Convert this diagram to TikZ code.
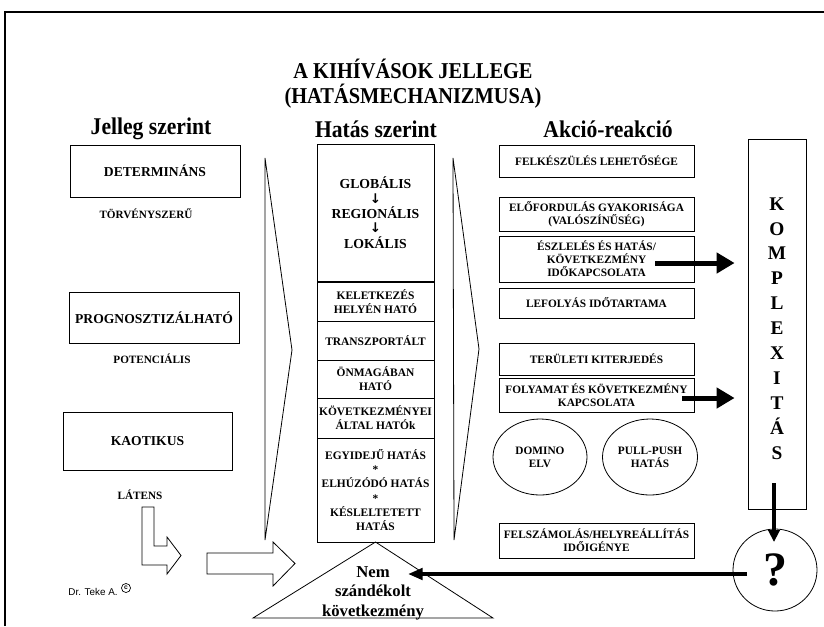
\documentclass[tikz,border=0pt]{standalone}
\usepackage{fontspec}
\setmainfont{Liberation Serif}
\newfontfamily\condfont[FakeStretch=0.9]{Liberation Serif}
\newfontfamily\sansf{Liberation Sans}
\newfontfamily\arrfont{DejaVu Sans}
\usetikzlibrary{arrows.meta,shapes.geometric}
\newcommand\darr{{\arrfont\bfseries\fontsize{10}{10}\selectfont ↓}}
\tikzset{
  bx/.style 2 args={draw, line width=0.6pt, inner sep=0pt, align=center,
    minimum width=#1*0.75pt, minimum height=#2*0.75pt},
  ttl/.style={font=\condfont\bfseries\fontsize{17}{18.75}\selectfont, align=center},
  hd/.style={font=\condfont\bfseries\fontsize{18}{20}\selectfont, align=center},
  lbig/.style={font=\bfseries\fontsize{10.2}{12}\selectfont},
  lsml/.style={font=\bfseries\fontsize{8.4}{10}\selectfont},
  cbig/.style={font=\bfseries\fontsize{10.3}{12.4}\selectfont},
  csml/.style={font=\bfseries\fontsize{8.6}{10.5}\selectfont},
  csml2/.style={font=\bfseries\fontsize{8.6}{10.65}\selectfont},
  rtxt/.style={font=\bfseries\fontsize{8.5}{9.75}\selectfont},
  tritxt/.style={font=\bfseries\fontsize{12.5}{14.6}\selectfont, align=center},
  kom/.style={font=\bfseries\fontsize{14.5}{18.7}\selectfont, align=center},
  qm/.style={font=\bfseries\fontsize{36}{38}\selectfont},
  thin/.style={draw, line width=0.6pt, line join=miter},
  bigarr/.style={line width=3.75pt, -{Triangle[length=13.5pt,width=15pt]}},
  midarr/.style={line width=3pt, -{Triangle[length=11pt,width=8.5pt]}},
  downarr/.style={line width=3pt, -{Triangle[length=9pt,width=8.5pt]}},
}
\begin{document}
\begin{tikzpicture}[x=0.75pt,y=-0.75pt]
\useasboundingbox (0,0) rectangle (824,626);
% frame
\draw[line width=1.9pt] (5,626) -- (5,12) -- (824,12);

% titles
\node[ttl] (title) at (413,84) {A KIHÍVÁSOK JELLEGE\\(HATÁSMECHANIZMUSA)};
\node[hd] (h1) at (151,129) {Jelleg szerint};
\node[hd] (h2) at (376,129) {Hatás szerint};
\node[hd] (h3) at (608,129) {Akció-reakció};

% left column
\node[bx={170}{52}, lbig] (det) at (155,171) {DETERMINÁNS};
\node[lsml] (torv) at (146,214) {TÖRVÉNYSZERŰ};
\node[bx={170}{51}, lbig] (prog) at (154,317.5) {PROGNOSZTIZÁLHATÓ};
\node[lsml] (pot) at (152,359) {POTENCIÁLIS};
\node[bx={169}{58}, lbig] (kao) at (147.5,441) {KAOTIKUS};
\node[lsml] (lat) at (140,495) {LÁTENS};
\node[font=\sansf\fontsize{7.4}{9}\selectfont, inner sep=0pt] (dr) at (93,592) {Dr. Teke A.};
\node[circle, draw, line width=0.5pt, inner sep=0pt, minimum size=6.8pt,
  font=\sansf\bfseries\fontsize{5}{6}\selectfont] (copy) at (126,588) {c};

% block arrows
\draw[thin] (142,507) -- (154,507) -- (154,546) -- (167,546) -- (167,537)
  -- (181,555.5) -- (167,574) -- (167,565) -- (142,565) -- cycle;
\draw[thin] (207,553) -- (273,553) -- (273,542) -- (295,563.5) -- (273,586)
  -- (273,574) -- (207,574) -- cycle;

% chevrons
\draw[thin] (265,158) -- (292,350) -- (265,540) -- cycle;
\draw[thin] (453,158) -- (479,349) -- (454,540) -- cycle;

% centre column
\node[bx={117}{137}, cbig] (c1) at (375.5,212.5)
  {GLOBÁLIS\\[-1.5pt]\darr\\[-1pt]REGIONÁLIS\\[-1.5pt]\darr\\[-1pt]LOKÁLIS};
\node[bx={117}{39}, csml] (c2) at (375.5,301.5) {KELETKEZÉS\\HELYÉN HATÓ};
\node[bx={117}{39}, csml] (c3) at (375.5,340.5) {TRANSZPORTÁLT};
\node[bx={117}{38}, csml] (c4) at (375.5,379) {ÖNMAGÁBAN\\HATÓ};
\node[bx={117}{40}, csml] (c5) at (375.5,418) {KÖVETKEZMÉNYEI\\ÁLTAL HATÓk};
\node[bx={117}{104}, csml2] (c6) at (375.5,490)
  {EGYIDEJŰ HATÁS\\*\\ELHÚZÓDÓ HATÁS\\*\\KÉSLELTETETT\\HATÁS};

% triangle
\coordinate (tA) at (375.5,542);
\coordinate (tL) at (253,618);
\coordinate (tR) at (493,618);
\draw[thin] (tA) -- (tL) -- (tR) -- cycle;
\node[tritxt] (tri) at (373,593) {Nem\\szándékolt\\következmény};

% right column
\node[bx={195}{32}, rtxt] (r1) at (596.5,161) {FELKÉSZÜLÉS LEHETŐSÉGE};
\node[bx={195}{34}, rtxt] (r2) at (596.5,214) {ELŐFORDULÁS GYAKORISÁGA\\(VALÓSZÍNŰSÉG)};
\node[bx={195}{46}, rtxt] (r3) at (596.5,259) {ÉSZLELÉS ÉS HATÁS/\\KÖVETKEZMÉNY\\IDŐKAPCSOLATA};
\node[bx={195}{30}, rtxt] (r4) at (596.5,303) {LEFOLYÁS IDŐTARTAMA};
\node[bx={195}{32}, rtxt] (r5) at (596.5,359) {TERÜLETI KITERJEDÉS};
\node[bx={195}{34}, rtxt] (r6) at (596.5,395) {FOLYAMAT ÉS KÖVETKEZMÉNY\\KAPCSOLATA};
\node[ellipse, draw, line width=0.6pt, inner sep=0pt, minimum width=94*0.75pt,
  minimum height=76*0.75pt, rtxt, align=center] (dom) at (540,457) {DOMINO\\ELV};
\node[ellipse, draw, line width=0.6pt, inner sep=0pt, minimum width=95*0.75pt,
  minimum height=76*0.75pt, rtxt, align=center] (pp) at (650,457) {PULL-PUSH\\HATÁS};
\node[bx={195}{35}, rtxt] (r7) at (596.5,540.5) {FELSZÁMOLÁS/HELYREÁLLÍTÁS\\IDŐIGÉNYE};

% komplexitas
\node[bx={58}{370}, kom] (kb) at (777,324) {};
\node[kom] (kt) at (777,328.5) {K\\O\\M\\P\\L\\E\\X\\I\\T\\Á\\S};
\node[ellipse, draw, line width=0.6pt, inner sep=0pt, minimum width=84*0.75pt,
  minimum height=82*0.75pt, qm] (q) at (775,570) {?};

% arrows
\coordinate (a1s) at (655,263);
\coordinate (a2s) at (682,398);
\draw[bigarr, shorten >=9.75pt] (a1s) -- (a1s -| kb.west);
\draw[bigarr, shorten >=9.75pt] (a2s) -- (a2s -| kb.west);
\coordinate (a3s) at (774,483);
\coordinate (a3e) at (774,542);
\draw[downarr] (a3s) -- (a3e);
\coordinate (a4s) at (747,574);
\coordinate (a4e) at (408,574);
\draw[midarr] (a4s) -- (a4e);
\end{tikzpicture}
\end{document}
